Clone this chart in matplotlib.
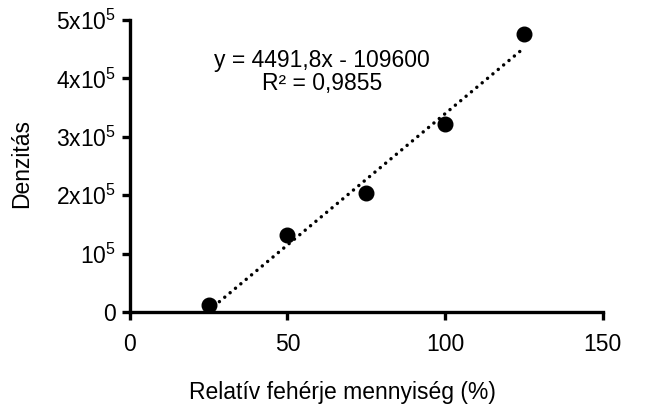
import matplotlib
matplotlib.use("Agg")
import matplotlib.pyplot as plt
import numpy as np

plt.rcParams['font.family'] = ['Liberation Sans', 'DejaVu Sans']
plt.rcParams['mathtext.fontset'] = 'custom'
plt.rcParams['mathtext.rm'] = 'Liberation Sans'
plt.rcParams['mathtext.it'] = 'Liberation Sans'

# data
x_vals = [25, 50, 75, 100, 125]
y_vals = [12000, 132000, 204000, 322000, 476000]
slope = 4491.8
intercept = -109600
eq_text = "y = 4491,8x - 109600\nR² = 0,9855"
x_ticks = [0, 50, 100, 150]
x_ticklabels = ["0", "50", "100", "150"]
y_ticks = [0, 100000, 200000, 300000, 400000, 500000]
y_ticklabels = ["0", r"10$^5$", r"2x10$^5$", r"3x10$^5$", r"4x10$^5$", r"5x10$^5$"]
xlabel = "Relatív fehérje mennyiség (%)"
ylabel = "Denzitás"

FS = 16.5

fig = plt.figure(figsize=(6.46, 4.07), dpi=100)
ax = fig.add_axes([0.201, 0.233, 0.732, 0.718])

xs = np.array([x_vals[0], x_vals[-1]])
ax.plot(xs, slope * xs + intercept, color='black', lw=2.5,
        linestyle=(0, (0.01, 2.0)), dash_capstyle='round', zorder=2)
ax.plot(x_vals, y_vals, 'o', color='black', markersize=10.5, zorder=3)

ax.set_xlim(0, 150)
ax.set_ylim(0, 500000)
ax.set_xticks(x_ticks)
ax.set_xticklabels(x_ticklabels)
ax.set_yticks(y_ticks)
ax.set_yticklabels(y_ticklabels)

for s in ['top', 'right']:
    ax.spines[s].set_visible(False)
for s in ['left', 'bottom']:
    ax.spines[s].set_linewidth(2.4)
ax.tick_params(direction='out', length=6, width=2.4, labelsize=FS)
ax.tick_params(axis='y', pad=4)
ax.tick_params(axis='x', pad=9)

ax.set_xlabel(xlabel, fontsize=FS)
ax.xaxis.set_label_coords(0.45, -0.235)
ax.set_ylabel(ylabel, fontsize=FS)
ax.yaxis.set_label_coords(-0.205, 0.51)

ax.text(61, 411000, eq_text, fontsize=FS, ha='center', va='center',
        linespacing=1.05, multialignment='center')

fig.savefig("out.png", dpi=100)
